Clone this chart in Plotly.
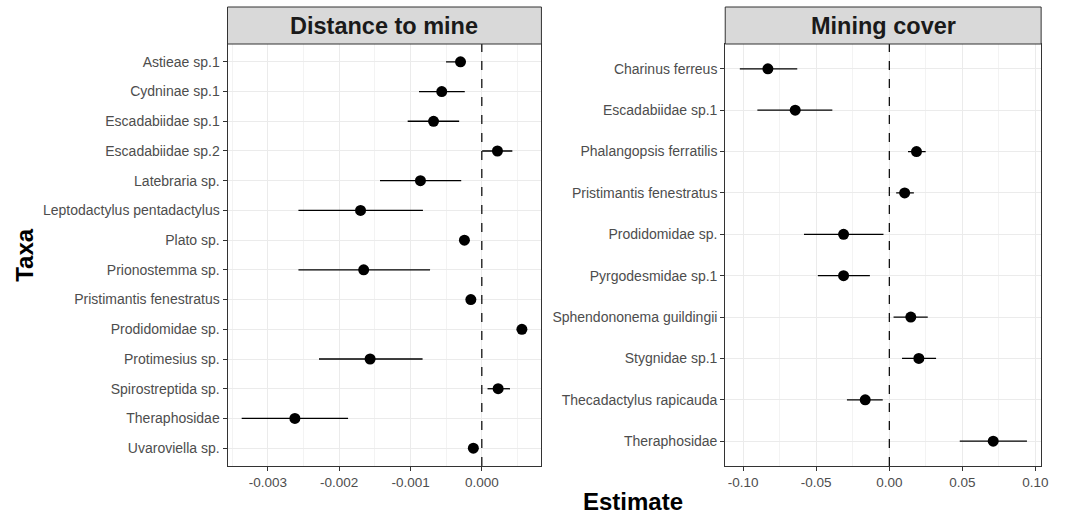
import plotly.graph_objects as go

# ---- Data: Distance to mine ----
dist_taxa = ["Astieae sp.1", "Cydninae sp.1", "Escadabiidae sp.1", "Escadabiidae sp.2",
             "Latebraria sp.", "Leptodactylus pentadactylus", "Plato sp.", "Prionostemma sp.",
             "Pristimantis fenestratus", "Prodidomidae sp.", "Protimesius sp.",
             "Spirostreptida sp.", "Theraphosidae", "Uvaroviella sp."]
dist_est = [-0.000299, -0.000562, -0.000677, 0.000219, -0.000861, -0.001701, -0.000244,
            -0.001657, -0.000154, 0.000562, -0.001567, 0.000229, -0.002622, -0.000119]
dist_lo = [-0.000502, -0.000881, -0.001040, 0.000005, -0.001428, -0.002572, -0.000290,
           -0.002572, -0.000210, 0.000520, -0.002284, 0.000080, -0.003368, -0.000160]
dist_hi = [-0.000229, -0.000239, -0.000318, 0.000428, -0.000289, -0.000826, -0.000200,
           -0.000726, -0.000100, 0.000600, -0.000831, 0.000393, -0.001876, -0.000080]
dist_ticks = [-0.003, -0.002, -0.001, 0.0]
dist_ticktext = ["-0.003", "-0.002", "-0.001", "0.000"]

# ---- Data: Mining cover ----
cov_taxa = ["Charinus ferreus", "Escadabiidae sp.1", "Phalangopsis ferratilis",
            "Pristimantis fenestratus", "Prodidomidae sp.", "Pyrgodesmidae sp.1",
            "Sphendononema guildingii", "Stygnidae sp.1", "Thecadactylus rapicauda",
            "Theraphosidae"]
cov_est = [-0.0831, -0.0644, 0.0186, 0.0105, -0.0313, -0.0313, 0.0147, 0.0202, -0.0165, 0.0711]
cov_lo = [-0.1023, -0.0903, 0.0128, 0.0047, -0.0584, -0.0489, 0.0029, 0.0087, -0.0290, 0.0482]
cov_hi = [-0.0630, -0.0390, 0.0249, 0.0168, -0.0040, -0.0133, 0.0263, 0.0320, -0.0045, 0.0942]
cov_ticks = [-0.10, -0.05, 0.0, 0.05, 0.10]
cov_ticktext = ["-0.10", "-0.05", "0.00", "0.05", "0.10"]

strip_titles = ["Distance to mine", "Mining cover"]

W, H = 1069, 517
def px(v): return v / W
def py(v): return 1 - v / H

panel_top, panel_bot, strip_top = 44, 466, 7
left_dom = [px(229), px(545)]
right_dom = [px(730), px(1048)]
ydom = [py(panel_bot), py(panel_top)]

FONT = "Liberation Sans, Arial"

fig = go.Figure()

def add_panel(taxa, est, lo, hi, xa, ya):
    fig.add_trace(go.Scatter(
        x=est, y=taxa, mode="markers", xaxis=xa, yaxis=ya,
        marker=dict(color="black", size=11),
        error_x=dict(type="data", symmetric=False,
                     array=[h - e for h, e in zip(hi, est)],
                     arrayminus=[e - l for e, l in zip(est, lo)],
                     color="black", thickness=1.3, width=0),
        showlegend=False, hoverinfo="x+y"))

add_panel(dist_taxa, dist_est, dist_lo, dist_hi, "x", "y")
add_panel(cov_taxa, cov_est, cov_lo, cov_hi, "x2", "y2")

xtickfont = dict(family=FONT, size=13.5, color="#4D4D4D")
ytickfont = dict(family=FONT, size=14, color="#4D4D4D")
common_x = dict(showline=True, mirror=True, linecolor="#333333", linewidth=1,
                ticks="outside", ticklen=4, tickcolor="#333333",
                showgrid=True, gridcolor="#EBEBEB", gridwidth=1.1,
                zeroline=False, tickfont=xtickfont)
common_y = dict(showline=True, mirror=True, linecolor="#333333", linewidth=1,
                ticks="outside", ticklen=4, tickcolor="#333333",
                showgrid=True, gridcolor="#EBEBEB", gridwidth=1.1,
                zeroline=False, tickfont=ytickfont, type="category")

fig.update_layout(
    width=W, height=H, margin=dict(l=0, r=0, t=0, b=0),
    paper_bgcolor="white", plot_bgcolor="white",
    xaxis=dict(domain=left_dom, range=[-0.003567, 0.000836],
               tickvals=dist_ticks, ticktext=dist_ticktext,
               minor=dict(dtick=0.0005, tick0=0, showgrid=True, gridcolor="#F3F3F3",
                          gridwidth=0.6, ticks=""),
               anchor="y", **common_x),
    yaxis=dict(domain=ydom, categoryorder="array", categoryarray=dist_taxa,
               range=[len(dist_taxa) - 0.4, -0.6], anchor="x", **common_y),
    xaxis2=dict(domain=right_dom, range=[-0.1123, 0.1039],
                tickvals=cov_ticks, ticktext=cov_ticktext,
                minor=dict(dtick=0.025, tick0=0, showgrid=True, gridcolor="#F3F3F3",
                           gridwidth=0.6, ticks=""),
                anchor="y2", **common_x),
    yaxis2=dict(domain=ydom, categoryorder="array", categoryarray=cov_taxa,
                range=[len(cov_taxa) - 0.4, -0.6], anchor="x2", **common_y),
)

# zero reference lines
for xr, yr in [("x", "y domain"), ("x2", "y2 domain")]:
    fig.add_shape(type="line", xref=xr, yref=yr, x0=0, x1=0, y0=0, y1=1,
                  line=dict(color="black", width=1.2, dash="dash"), layer="above")

# facet strips
for dom, title in zip([left_dom, right_dom], strip_titles):
    fig.add_shape(type="rect", xref="paper", yref="paper",
                  x0=dom[0], x1=dom[1], y0=py(panel_top), y1=py(strip_top),
                  fillcolor="#D9D9D9", line=dict(color="#333333", width=1))
    fig.add_annotation(xref="paper", yref="paper", x=(dom[0] + dom[1]) / 2,
                       y=(py(panel_top) + py(strip_top)) / 2, text="<b>%s</b>" % title,
                       showarrow=False, xanchor="center", yanchor="middle",
                       font=dict(family=FONT, size=23.5, color="#1A1A1A"))

# axis titles
fig.add_annotation(xref="paper", yref="paper", x=px(637), y=py(501), text="<b>Estimate</b>",
                   showarrow=False, xanchor="center", yanchor="middle",
                   font=dict(family=FONT, size=24, color="black"))
fig.add_annotation(xref="paper", yref="paper", x=px(24), y=py(255), text="<b>Taxa</b>",
                   showarrow=False, xanchor="center", yanchor="middle", textangle=-90,
                   font=dict(family=FONT, size=24, color="black"))

fig.write_html("out.html", config={"displayModeBar": False},
               post_script="document.body.style.margin='0px';document.body.style.overflow='hidden';")
